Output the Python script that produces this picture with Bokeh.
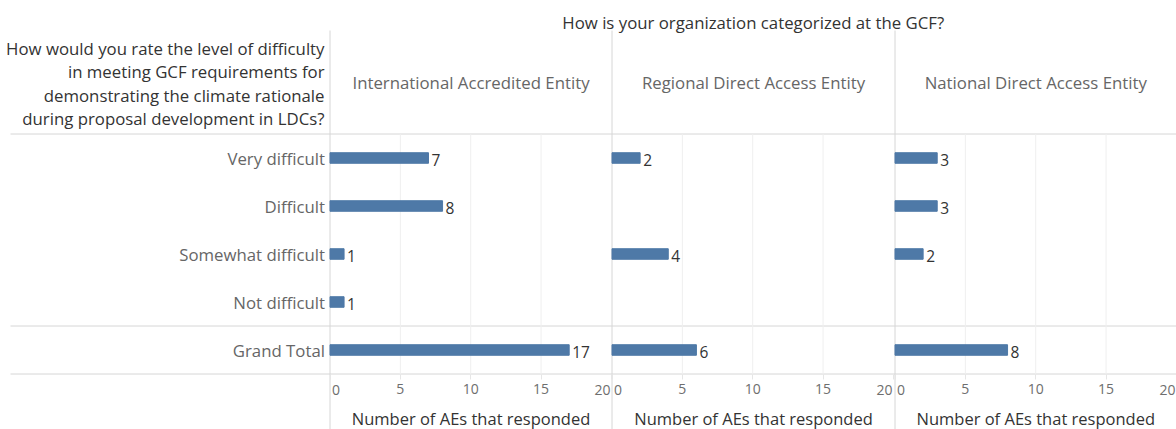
from bokeh.plotting import figure
from bokeh.models import Range1d, LinearAxis, FixedTicker
from bokeh.core.properties import value
from bokeh.embed import file_html
from bokeh.resources import INLINE

# ---------------- data ----------------
categories = ["Very difficult", "Difficult", "Somewhat difficult", "Not difficult", "Grand Total"]
panel_names = ["International Accredited Entity", "Regional Direct Access Entity",
               "National Direct Access Entity"]
intl_values = [7, 8, 1, 1, 17]
regional_values = [2, None, 4, None, 6]
national_values = [3, 3, 2, None, 8]
x_ticks = [0, 5, 10, 15, 20]
title_text = "How is your organization categorized at the GCF?"
question_lines = ["How would you rate the level of difficulty",
                  "in meeting GCF requirements for",
                  "demonstrating the climate rationale",
                  "during proposal development in LDCs?"]
x_label = "Number of AEs that responded"

# ---------------- layout / style ----------------
FONT = "Open Sans"
W, H = 1176, 429
S = 14.07                       # pixels per unit on the value axes
panel_left = [329.5, 611.5, 894.5]
panel_right = [611.5, 894.5, 1176.0]
band_top, band_bottom = 133.5, 373.5
n = len(categories)
band_h = (band_bottom - band_top) / n
BAR = "#4e79a7"
LINE = "#d6d6d6"
GRID = "#efefef"
DARK = "#333333"
MID = "#666666"
TICK = "#6e6e6e"
HEAD_SIZE = "16.8px"

p = figure(width=W, height=H, output_backend="svg", toolbar_location=None,
           x_range=Range1d(0, W),
           y_range=Range1d(-(H - band_bottom) / band_h, n + band_top / band_h),
           x_axis_location=None, y_axis_location=None, title_location=None,
           min_border=0, outline_line_color=None,
           background_fill_color="white", border_fill_color="white")
p.grid.visible = False
p.extra_y_ranges = {"px": Range1d(H, 0)}
for k, L in enumerate(panel_left):
    p.extra_x_ranges[f"p{k}"] = Range1d(-L / S, (W - L) / S)

ys = [n - i - 0.5 for i in range(n)]

# horizontal rules (top of table, above the total row, bottom of table)
rules = [n, 1, 0]
p.segment(x0=[10] * 3, x1=[W] * 3, y0=rules, y1=rules, line_color=LINE, line_width=1)

series = [intl_values, regional_values, national_values]
for k, vals in enumerate(series):
    rn = f"p{k}"
    inner = x_ticks[1:-1]
    p.segment(x0=inner, x1=inner, y0=[0] * len(inner), y1=[n] * len(inner),
              line_color=GRID, line_width=1, x_range_name=rn)
    p.segment(x0=[0], x1=[0], y0=[30], y1=[H], line_color=LINE, line_width=1,
              x_range_name=rn, y_range_name="px")
    by = [y for y, v in zip(ys, vals) if v is not None]
    bv = [v for v in vals if v is not None]
    p.hbar(y=by, left=0, right=bv, height=0.22, color=BAR, x_range_name=rn)
    p.text(x=bv, y=by, text=[str(v) for v in bv], x_offset=3, y_offset=2,
           text_align="left", text_baseline="middle", text_font=value(FONT),
           text_font_size="15.5px", text_color=DARK, x_range_name=rn)
    ax = LinearAxis(x_range_name=rn, fixed_location=0, ticker=FixedTicker(ticks=x_ticks),
                    major_label_overrides={x_ticks[0]: "", x_ticks[-1]: ""},
                    axis_line_color=None,
                    major_tick_line_color="#e6e6e6", major_tick_out=5, major_tick_in=0,
                    minor_tick_line_color=None, minor_tick_out=0, minor_tick_in=0,
                    major_label_text_font=FONT, major_label_text_font_size="14px",
                    major_label_text_color=TICK, major_label_standoff=5)
    p.add_layout(ax, "below")
    # first / last tick labels kept inside the panel
    p.text(x=[x_ticks[0]], y=[0], text=[str(x_ticks[0])], x_offset=2, y_offset=16,
           text_align="left", text_baseline="middle", text_font=value(FONT),
           text_font_size="14px", text_color=TICK, x_range_name=rn)
    p.text(x=[x_ticks[-1]], y=[0], text=[str(x_ticks[-1])], x_offset=-1, y_offset=16,
           text_align="right", text_baseline="middle", text_font=value(FONT),
           text_font_size="14px", text_color=TICK, x_range_name=rn)
    cx = (panel_left[k] + panel_right[k]) / 2
    p.text(x=[cx], y=[418], text=[x_label], text_align="center", text_baseline="middle",
           text_font=value(FONT), text_font_size="16.5px", text_color=DARK, y_range_name="px")
    p.text(x=[cx], y=[82], text=[panel_names[k]],
           text_align="center", text_baseline="middle", text_font=value(FONT),
           text_font_size=HEAD_SIZE, text_color=MID, y_range_name="px")

# category axis
yax = LinearAxis(fixed_location=panel_left[0], ticker=FixedTicker(ticks=ys),
                 major_label_overrides={y: c for y, c in zip(ys, categories)},
                 axis_line_color=None, major_tick_line_color=None, major_tick_out=0,
                 major_tick_in=0, minor_tick_line_color=None, minor_tick_out=0, minor_tick_in=0,
                 major_label_standoff=5, major_label_text_font=FONT,
                 major_label_text_font_size=HEAD_SIZE, major_label_text_color=MID)
p.add_layout(yax, "left")

# top title
p.text(x=[(panel_left[0] + panel_right[-1]) / 2], y=[22], text=[title_text],
       text_align="center", text_baseline="middle", text_font=value(FONT),
       text_font_size=HEAD_SIZE, text_color=DARK, y_range_name="px")

# question (row header)
qy = [48 + 23.3 * i for i in range(len(question_lines))]
p.text(x=[324] * len(question_lines), y=qy, text=question_lines,
       text_align="right", text_baseline="middle", text_font=value(FONT),
       text_font_size=HEAD_SIZE, text_color=DARK, y_range_name="px")

open("out.html", "w").write(file_html(p, INLINE))
